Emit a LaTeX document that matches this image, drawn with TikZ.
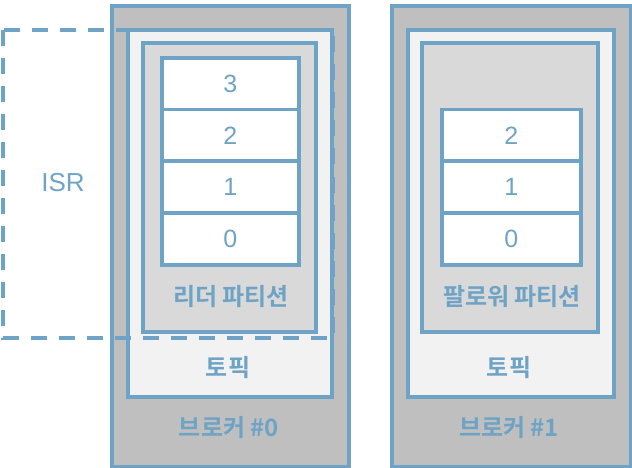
\documentclass[tikz,border=0pt]{standalone}
\usepackage{fontspec}
\setmainfont{Liberation Sans}
\newfontfamily\kr{Noto Sans CJK KR}[BoldFont={* Bold}]
\definecolor{edge}{HTML}{6FA3C5}
\definecolor{brokerfill}{HTML}{BFBFBF}
\definecolor{topicfill}{HTML}{F2F2F2}
\definecolor{partfill}{HTML}{D9D9D9}
\tikzset{
  box/.style={draw=edge, line width=3.6pt, anchor=north west, inner sep=0pt},
  cell/.style={box, fill=white, minimum width=137pt, minimum height=51.75pt, font=\fontsize{25}{25}\selectfont, text=edge},
  lbl/.style={text=edge, font=\kr\bfseries\fontsize{24}{24}\selectfont},
  isrbox/.style={draw=edge, line width=3.4pt, dash pattern=on 16pt off 12pt},
}
\begin{document}
\begin{tikzpicture}[x=1pt,y=-1pt]
\useasboundingbox (0,0) rectangle (632,468);
% broker 0
\node[box, fill=brokerfill, minimum width=237pt, minimum height=461pt] (b0) at (110,4) {};
\node[box, fill=topicfill, minimum width=204pt, minimum height=367pt] (t0) at (126,28) {};
\node[box, fill=partfill, minimum width=173pt, minimum height=289pt] (p0) at (141,41) {};
\node[cell] (r03) at (160,56) {3};
\node[cell] (r02) at (160,107.75) {2};
\node[cell] (r01) at (160,159.5) {1};
\node[cell] (r00) at (160,211.25) {0};
\node[lbl] (pl0) at (231,297) {리더\hspace{0.2em}파티션};
\node[lbl] (tl0) at (228,368) {토픽};
\node[lbl] (bl0) at (229,428) {브로커 \#0};
% broker 1
\node[box, fill=brokerfill, minimum width=239pt, minimum height=461pt] (b1) at (390,4) {};
\node[box, fill=topicfill, minimum width=206pt, minimum height=367pt] (t1) at (406,28) {};
\node[box, fill=partfill, minimum width=176pt, minimum height=289pt] (p1) at (420,41) {};
\node[cell, minimum width=139pt] (r12) at (440,107.75) {2};
\node[cell, minimum width=139pt] (r11) at (440,159.5) {1};
\node[cell, minimum width=139pt] (r10) at (440,211.25) {0};
\node[lbl] (pl1) at (512,297) {팔로워\hspace{0.2em}파티션};
\node[lbl] (tl1) at (509,368) {토픽};
\node[lbl] (bl1) at (509,428) {브로커 \#1};
% ISR
\draw[isrbox] (3,30) rectangle (333.5,338);
\node[text=edge, font=\fontsize{26}{26}\selectfont] (isr) at (63,183) {ISR};
\end{tikzpicture}
\end{document}
